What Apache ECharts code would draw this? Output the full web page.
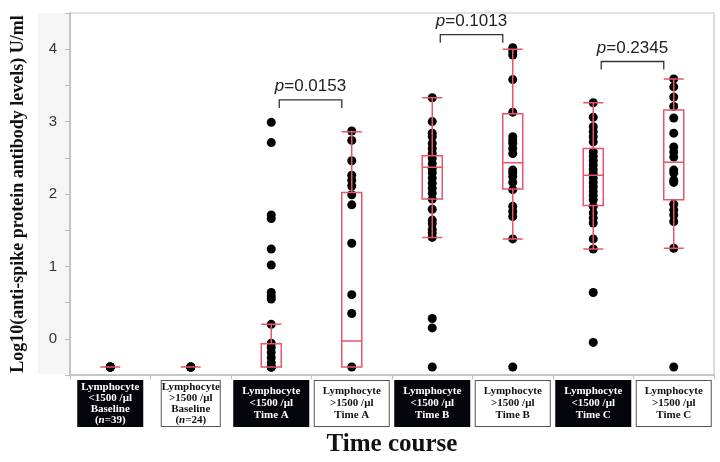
<!DOCTYPE html>
<html>
<head>
<meta charset="utf-8">
<script src="https://cdn.jsdelivr.net/npm/echarts@6/dist/echarts.min.js"></script>
<style>
  html, body { margin: 0; background: #fff; }
  #chart { width: 720px; height: 462px; }
</style>
</head>
<body>
<div id="chart"></div>
<script>
// groups along the time course
var categories = ['BL_low', 'BL_high', 'A_low', 'A_high', 'B_low', 'B_high', 'C_low', 'C_high'];
var groupLevel = ['<1500', '>1500', '<1500', '>1500', '<1500', '>1500', '<1500', '>1500'];
var groupTime = ['Baseline', 'Baseline', 'Time A', 'Time A', 'Time B', 'Time B', 'Time C', 'Time C'];
var groupN = ['39', '24', '', '', '', '', '', ''];

// individual log10 antibody values
var baseLowPts = [-0.39, -0.39, -0.39, -0.39, -0.39, -0.39];
var baseHighPts = [-0.39, -0.39, -0.39, -0.39];
var timeALowPts = [2.99, 2.71, 1.71, 1.66, 1.24, 1.02, 0.64, 0.59, 0.55, 0.2, -0.06, -0.12, -0.19, -0.26, -0.33, -0.39, -0.39, -0.39];
var timeAHighPts = [2.87, 2.74, 2.46, 2.26, 2.19, 2.11, 1.99, 1.85, 1.32, 0.61, 0.35, -0.39];
var timeBLowPts = [3.33, 3.0, 2.84, 2.79, 2.7, 2.63, 2.56, 2.49, 2.42, 2.35, 2.29, 2.22, 2.15, 2.08, 2.01, 1.93, 1.79, 1.64, 1.59, 1.51, 1.46, 1.4, 0.28, 0.15, -0.39];
var timeBHighPts = [4.02, 3.97, 3.92, 3.58, 3.13, 2.79, 2.74, 2.7, 2.63, 2.56, 2.33, 2.29, 2.24, 2.16, 2.06, 1.83, 1.76, 1.69, 1.38, -0.39];
var timeCLowPts = [3.26, 3.06, 2.93, 2.86, 2.79, 2.72, 2.58, 2.52, 2.46, 2.4, 2.34, 2.28, 2.22, 2.16, 2.1, 2.04, 1.98, 1.92, 1.83, 1.74, 1.67, 1.6, 1.38, 1.24, 0.64, -0.05];
var timeCHighPts = [3.59, 3.48, 3.34, 3.21, 3.05, 2.84, 2.65, 2.58, 2.51, 2.33, 2.29, 2.19, 2.16, 1.86, 1.78, 1.71, 1.62, 1.25, -0.39];

// box stats: [lower whisker, Q1, median, Q3, upper whisker]
var boxStats = [
  [-0.39, -0.39, -0.39, -0.39, -0.39],
  [-0.39, -0.39, -0.39, -0.39, -0.39],
  [-0.39, -0.39, -0.39, -0.07, 0.2],
  [-0.39, -0.39, -0.03, 2.02, 2.86],
  [1.40, 1.93, 2.37, 2.53, 3.33],
  [1.38, 2.07, 2.43, 3.11, 4.0],
  [1.24, 1.84, 2.26, 2.63, 3.26],
  [1.25, 1.92, 2.44, 3.16, 3.59]
];

// p-value brackets: [left group, right group, bracket height]
var pPairs = [[2, 3, 3.30], [4, 5, 4.20], [6, 7, 3.83]];
var pValues = ['0.0153', '0.1013', '0.2345'];

var allPts = [baseLowPts, baseHighPts, timeALowPts, timeAHighPts, timeBLowPts, timeBHighPts, timeCLowPts, timeCHighPts];
var scatterData = [];
allPts.forEach(function (pts, i) {
  pts.forEach(function (v) { scatterData.push([i, v]); });
});

var RED = '#e5566b';
var SERIF = '"Liberation Serif", "Times New Roman", serif';
var SANS = '"Liberation Sans", Arial, sans-serif';

function labelStyle(i) {
  var dark = i % 2 === 0;
  var baseline = groupN[i] !== '';
  var col = dark ? '#fff' : '#111';
  var tok = { fontFamily: SERIF, fontWeight: 'bold', fontSize: 11, color: col, lineHeight: 11 };
  return {
    backgroundColor: dark ? '#05050c' : '#fff',
    borderColor: dark ? '#05050c' : '#555',
    borderWidth: 1,
    color: col,
    width: baseline ? (i === 0 ? 64 : 58) : 74,
    lineHeight: baseline ? 11 : 12,
    padding: baseline ? [0.5, 0] : [4.5, 0],
    rich: { i: Object.assign({}, tok, { fontStyle: 'italic' }), b: tok }
  };
}

var chart = echarts.init(document.getElementById('chart'));
chart.setOption({
  animation: false,
  backgroundColor: '#fff',
  graphic: [{
    type: 'rect', left: 38, top: 13, z: -10,
    shape: { width: 32, height: 361 },
    style: { fill: '#f5f5f5' }
  }],
  grid: {
    left: 70, right: 6, top: 13, bottom: 87,
    containLabel: false, outerBoundsMode: 'none',
    show: true, borderColor: '#c4c4c4', borderWidth: 1.2, backgroundColor: '#fff'
  },
  xAxis: {
    type: 'category',
    data: categories.map(function (c, i) { return { value: c, textStyle: labelStyle(i) }; }),
    boundaryGap: true,
    axisLine: { onZero: false, lineStyle: { color: '#bdbdbd', width: 1.5 } },
    axisTick: { show: true, interval: 0, length: 4, lineStyle: { color: '#bdbdbd' } },
    axisLabel: {
      interval: 0, margin: 6,
      fontFamily: SERIF, fontWeight: 'bold', fontSize: 11,
      formatter: function (v, i) {
        var s = 'Lymphocyte\n' + groupLevel[i] + ' /μl\n' + groupTime[i];
        if (groupN[i]) s += '\n({i|n}=' + groupN[i] + ')';
        return s;
      }
    },
    name: 'Time course',
    nameLocation: 'middle',
    nameGap: 57,
    nameMoveOverlap: false,
    nameTextStyle: { fontFamily: SERIF, fontWeight: 'bold', fontSize: 25, color: '#111' }
  },
  yAxis: {
    type: 'value',
    min: -0.5, max: 4.5, interval: 0.5,
    splitLine: { show: false },
    axisLine: { show: true, lineStyle: { color: '#bdbdbd', width: 1.5 } },
    axisTick: { show: true, length: 5, lineStyle: { color: '#bdbdbd' } },
    axisLabel: {
      margin: 13, fontFamily: SANS, fontSize: 15, color: '#333',
      formatter: function (v) { return Number.isInteger(v) && v >= 0 && v <= 4 ? String(v) : ''; }
    },
    name: 'Log10(anti-spike protein antibody levels) U/ml',
    nameLocation: 'middle',
    nameGap: 43,
    nameMoveOverlap: false,
    nameTextStyle: { fontFamily: SERIF, fontWeight: 'bold', fontSize: 18, color: '#111' }
  },
  series: [
    {
      type: 'scatter',
      data: scatterData,
      symbolSize: 9,
      itemStyle: { color: '#000', opacity: 1 },
      z: 2
    },
    {
      type: 'boxplot',
      data: boxStats,
      boxWidth: [20, 20],
      itemStyle: { color: 'rgba(0,0,0,0)', borderColor: RED, borderWidth: 1.5 },
      z: 3
    },
    {
      type: 'custom',
      data: pPairs,
      encode: { x: [0, 1], y: 2 },
      z: 4,
      renderItem: function (params, api) {
        var l = api.coord([api.value(0), api.value(2)]);
        var r = api.coord([api.value(1), api.value(2)]);
        var x1 = l[0] + 8, x2 = r[0] - 10, y = l[1];
        return {
          type: 'group',
          children: [
            {
              type: 'polyline',
              shape: { points: [[x1, y + 8], [x1, y], [x2, y], [x2, y + 8]] },
              style: { stroke: '#333', fill: null, lineWidth: 1.3 }
            },
            {
              type: 'text',
              x: (x1 + x2) / 2, y: y - 13.5,
              style: {
                text: '{i|p}{n|=' + pValues[params.dataIndex] + '}',
                align: 'center', verticalAlign: 'middle',
                rich: {
                  i: { fontFamily: SANS, fontSize: 17, fontStyle: 'italic', fill: '#222' },
                  n: { fontFamily: SANS, fontSize: 17, fill: '#222' }
                }
              }
            }
          ]
        };
      }
    }
  ]
});
</script>
</body>
</html>
